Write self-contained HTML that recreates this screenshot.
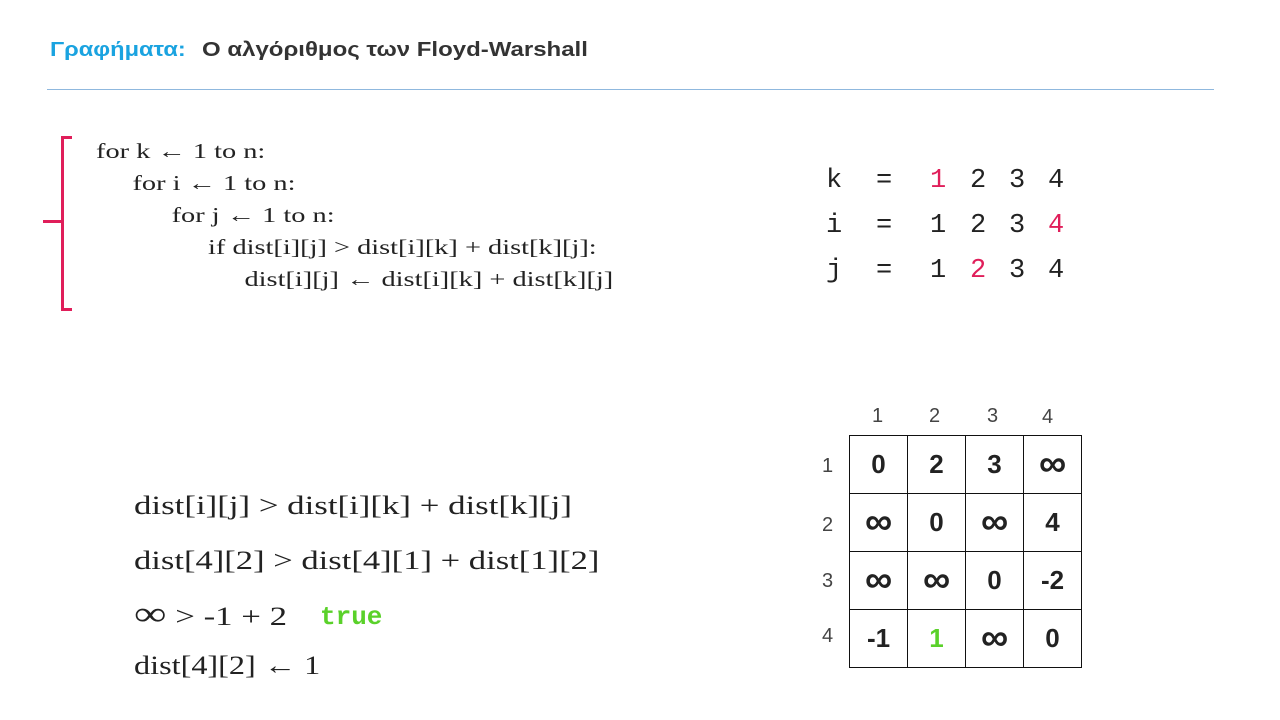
<!DOCTYPE html>
<html><head><meta charset="utf-8"><style>
body{margin:0;width:1280px;height:720px;background:#fff;position:relative;overflow:hidden;font-family:"Liberation Sans",sans-serif}
.a{position:absolute;white-space:nowrap}
.s{font-family:"Liberation Serif","DejaVu Serif",serif;color:#222;transform-origin:0 0}
.m{font-family:"Liberation Mono","DejaVu Sans Mono",monospace;color:#222}
table{position:absolute;left:849px;top:435px;border-collapse:collapse}
td{width:57px;height:57px;border:1px solid #111;text-align:center;font-weight:bold;font-size:26px;color:#222;padding:0}
.inf{font-size:38px}
.h{position:absolute;font-size:20px;color:#444}
.k{position:absolute;font-family:"Liberation Mono",monospace;font-size:27px;color:#222}
</style></head><body>
<div class="a" style="left:50px;top:39px;font-size:20px;font-weight:bold;color:#1aa3e0;transform:scaleX(1.18);transform-origin:0 0">Γραφήματα:</div>
<div class="a" style="left:202px;top:39px;font-size:20px;font-weight:bold;color:#333;transform:scaleX(1.2);transform-origin:0 0">Ο αλγόριθμος των Floyd-Warshall</div>
<div class="a" style="left:47px;top:89px;width:1167px;height:1px;background:#8fb8de"></div>
<div class="a" style="left:61px;top:136px;width:8px;height:169px;border:3px solid #e01e5a;border-right:none"></div>
<div class="a" style="left:43px;top:220px;width:19px;height:3px;background:#e01e5a"></div>
<div class="a s" style="left:96px;top:135px;font-size:21px;line-height:32px;transform:scaleX(1.35)">
for k ← 1 to n:<br>
<span style="padding-left:27px">for i ← 1 to n:</span><br>
<span style="padding-left:56px">for j ← 1 to n:</span><br>
<span style="padding-left:83px">if dist[i][j] &gt; dist[i][k] + dist[k][j]:</span><br>
<span style="padding-left:110px">dist[i][j] ← dist[i][k] + dist[k][j]</span>
</div>
<div class="k" style="left:826px;top:166px">k</div><div class="k" style="left:876px;top:166px">=</div>
<div class="k" style="left:930px;top:166px;color:#e01e5a">1</div><div class="k" style="left:970px;top:166px">2</div><div class="k" style="left:1009px;top:166px">3</div><div class="k" style="left:1048px;top:166px">4</div>
<div class="k" style="left:826px;top:211px">i</div><div class="k" style="left:876px;top:211px">=</div>
<div class="k" style="left:930px;top:211px">1</div><div class="k" style="left:970px;top:211px">2</div><div class="k" style="left:1009px;top:211px">3</div><div class="k" style="left:1048px;top:211px;color:#e01e5a">4</div>
<div class="k" style="left:826px;top:256px">j</div><div class="k" style="left:876px;top:256px">=</div>
<div class="k" style="left:930px;top:256px">1</div><div class="k" style="left:970px;top:256px;color:#e01e5a">2</div><div class="k" style="left:1009px;top:256px">3</div><div class="k" style="left:1048px;top:256px">4</div>
<div class="h" style="left:872px;top:405px">1</div>
<div class="h" style="left:929px;top:405px">2</div>
<div class="h" style="left:987px;top:405px">3</div>
<div class="h" style="left:1042px;top:406px">4</div>
<div class="h" style="left:822px;top:455px">1</div>
<div class="h" style="left:822px;top:514px">2</div>
<div class="h" style="left:822px;top:570px">3</div>
<div class="h" style="left:822px;top:625px">4</div>
<table>
<tr><td>0</td><td>2</td><td>3</td><td class="inf">∞</td></tr>
<tr><td class="inf">∞</td><td>0</td><td class="inf">∞</td><td>4</td></tr>
<tr><td class="inf">∞</td><td class="inf">∞</td><td>0</td><td>-2</td></tr>
<tr><td>-1</td><td style="color:#5ad12a">1</td><td class="inf">∞</td><td>0</td></tr>
</table>
<div class="a s" style="left:134px;top:491px;font-size:26px;transform:scaleX(1.34)">dist[i][j] &gt; dist[i][k] + dist[k][j]</div>
<div class="a s" style="left:134px;top:546px;font-size:26px;transform:scaleX(1.33)">dist[4][2] &gt; dist[4][1] + dist[1][2]</div>
<div class="a s" style="left:134px;top:602px;font-size:26px;transform:scaleX(1.34)"><span style="font-size:34px;line-height:26px">∞</span> &gt; -1 + 2</div>
<div class="a m" style="left:320px;top:602px;font-size:26px;color:#5ad12a;font-weight:bold">true</div>
<div class="a s" style="left:134px;top:651px;font-size:26px;transform:scaleX(1.24)">dist[4][2] ← 1</div>
</body></html>
